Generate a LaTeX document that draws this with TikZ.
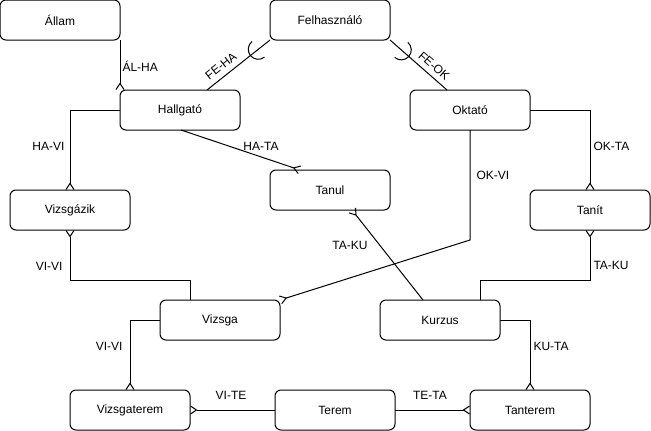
\documentclass[tikz,border=0pt]{standalone}
\usepackage{fontspec}
\setmainfont{Liberation Sans}
\usetikzlibrary{arrows.meta,decorations.markings}

\begin{document}
\begin{tikzpicture}[x=1pt,y=-1pt,line width=1pt,font=\fontsize{12}{14}\selectfont]

        \tikzstyle{entity}=[draw,rounded corners=6pt,minimum width=120pt,minimum height=40pt,inner sep=0pt,outer sep=0pt]
        \tikzstyle{many}=[-{Straight Barb[reversed,length=6pt,width=8pt]}]
        \tikzstyle{one}=[postaction={decorate,decoration={markings,mark=at position 15pt with {\draw (0pt,-10pt) arc[start angle=-90,end angle=90,radius=10pt];}}}]
        \tikzstyle{lbl}=[inner sep=0pt]

        \useasboundingbox (0,0) rectangle (651,431);

        %% Entities
        \node [entity] (allam) at (60,20) {Állam};
        \node [entity] (felh) at (330,20) {Felhasználó};
        \node [entity] (hallg) at (180,110) {Hallgató};
        \node [entity] (oktato) at (470,110) {Oktató};
        \node [entity] (tanul) at (330,190) {Tanul};
        \node [entity] (vizsgazik) at (70,210) {Vizsgázik};
        \node [entity] (tanit) at (590,210) {Tanít};
        \node [entity] (vizsga) at (220,320) {Vizsga};
        \node [entity] (kurzus) at (440,320) {Kurzus};
        \node [entity] (vterem) at (130,410) {Vizsgaterem};
        \node [entity] (terem) at (335,410) {Terem};
        \node [entity] (tanterem) at (530,410) {Tanterem};

        %% Relations
        \draw [many] (allam.south east) -- (hallg.north west);
        \draw [one] (felh.south west) -- ([xshift=27pt]hallg.north);
        \draw [one] (felh.south east) -- ([xshift=-23pt]oktato.north);
        \draw [many] ([xshift=1pt]hallg.south) -- ([xshift=-30pt]tanul.north);
        \draw [many] (hallg.west) -| (vizsgazik.north);
        \draw [many] (oktato.east) -| (tanit.north);
        \draw [many] (oktato.south) -- ++(0,110) -- (vizsga.north east);
        \draw [many] ([xshift=-17pt]kurzus.north) -- ([xshift=22pt]tanul.south);
        \draw [many] ([xshift=40pt]kurzus.north) -- ++(0,-20) -| (tanit.south);
        \draw [many] ([xshift=-30pt]vizsga.north) -- ++(0,-20) -| (vizsgazik.south);
        \draw [many] (vizsga.west) -| (vterem.north);
        \draw [many] (kurzus.east) -| (tanterem.north);
        \draw [many] (terem.west) -- (vterem.east);
        \draw [many] (terem.east) -- (tanterem.west);

        %% Relation names
        \node [lbl,anchor=west] (lalha) at (122,66) {ÁL-HA};
        \node [lbl,rotate=38.4] (lfeha) at (221,66) {FE-HA};
        \node [lbl,rotate=-41.3] (lfeok) at (434,66) {FE-OK};
        \node [lbl,anchor=east] (lhavi) at (65,146) {HA-VI};
        \node [lbl] (lhata) at (261,146) {HA-TA};
        \node [lbl,anchor=west] (lokvi) at (476,175) {OK-VI};
        \node [lbl,anchor=west] (lokta) at (593,146) {OK-TA};
        \node [lbl] (ltaku) at (350,245) {TA-KU};
        \node [lbl,anchor=west] (ltakut) at (593,265) {TA-KU};
        \node [lbl,anchor=east] (lvivi) at (63,266) {VI-VI};
        \node [lbl,anchor=east] (lvivit) at (123,346) {VI-VI};
        \node [lbl] (lvite) at (231,395) {VI-TE};
        \node [lbl] (lteta) at (430,395) {TE-TA};
        \node [lbl,anchor=west] (lkuta) at (533,346) {KU-TA};

    \end{tikzpicture}
\end{document}
